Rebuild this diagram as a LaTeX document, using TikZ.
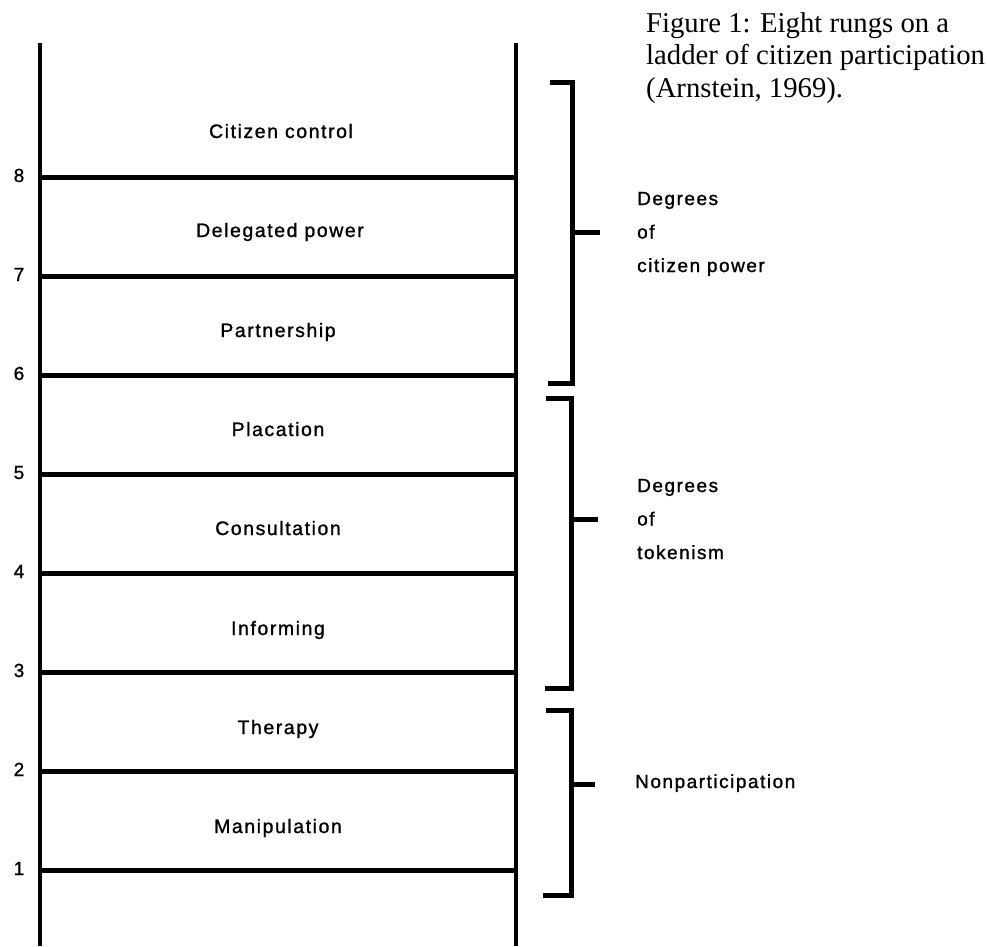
\documentclass[tikz,border=0pt]{standalone}
\usepackage{fontspec}
\setmainfont{Liberation Serif}
\newfontfamily\lblfont[LetterSpace=8,FakeBold=1.2]{Liberation Sans}
\begin{document}
\begin{tikzpicture}[x=1pt,y=-1pt,
  rail/.style={line width=4.5pt,line cap=butt},
  rung/.style={line width=5pt,line cap=butt},
  brk/.style={line width=5pt,line cap=butt,line join=miter},
  lbl/.style={font=\lblfont\fontsize{19.5}{22}\selectfont,inner sep=0pt,anchor=base},
  side/.style={font=\lblfont\fontsize{19}{33.5}\selectfont,inner sep=0pt,anchor=base west,align=left},
  num/.style={font=\lblfont\fontsize{19}{22}\selectfont,inner sep=0pt,anchor=base},
  captext/.style={font=\fontsize{28.7}{32.5}\selectfont,inner sep=0pt,anchor=base west,align=left}
]
\useasboundingbox[fill=white] (0,0) rectangle (987,946);

% rails
\coordinate (LT) at (40,43);
\coordinate (LB) at (40,946);
\coordinate (RT) at (516,43);
\coordinate (RB) at (516,946);
\draw[rail] (LT) -- (LB);
\draw[rail] (RT) -- (RB);

% rungs and numbers
\foreach \k in {1,...,8}{
  \pgfmathsetmacro{\yy}{870-99*(\k-1)}
  \coordinate (L\k) at (37.75,\yy);
  \coordinate (R\k) at (518.25,\yy);
  \draw[rung] (L\k) -- (R\k);
  \node[num] (n\k) at (19,\yy+5) {\k};
}

% rung labels
\node[lbl] (t8) at (281,138) {Citizen control};
\node[lbl] (t7) at (280,237) {Delegated power};
\node[lbl] (t6) at (278,337) {Partnership};
\node[lbl] (t5) at (278,436) {Placation};
\node[lbl] (t4) at (278,535) {Consultation};
\node[lbl] (t3) at (278,635) {Informing};
\node[lbl] (t2) at (278,734) {Therapy};
\node[lbl] (t1) at (278,833) {Manipulation};

% bracket: citizen power
\coordinate (a1) at (550,82);
\coordinate (a2) at (572,82);
\coordinate (a3) at (572,383);
\coordinate (a4) at (548,383);
\coordinate (am) at (572,232);
\coordinate (ae) at (600,232);
\draw[brk] (a1) -- (a2) -- (a3) -- (a4);
\draw[brk] (am) -- (ae);
\node[side] (s1) at (637,272) {Degrees\\of\\citizen power};

% bracket: tokenism
\coordinate (b1) at (546,398);
\coordinate (b2) at (571,398);
\coordinate (b3) at (571,688);
\coordinate (b4) at (545,688);
\coordinate (bm) at (571,519);
\coordinate (be) at (598,519);
\draw[brk] (b1) -- (b2) -- (b3) -- (b4);
\draw[brk] (bm) -- (be);
\node[side] (s2) at (637,559) {Degrees\\of\\tokenism};

% bracket: nonparticipation
\coordinate (c1) at (546,710);
\coordinate (c2) at (571,710);
\coordinate (c3) at (571,895);
\coordinate (c4) at (543,895);
\coordinate (cm) at (571,784);
\coordinate (ce) at (595,784);
\draw[brk] (c1) -- (c2) -- (c3) -- (c4);
\draw[brk] (cm) -- (ce);
\node[side] (s3) at (635,788) {Nonparticipation};

% caption
\node[captext] (caption) at (646,97) {Figure 1: Eight rungs on a\\ladder of citizen participation\\(Arnstein, 1969).};
\end{tikzpicture}
\end{document}
